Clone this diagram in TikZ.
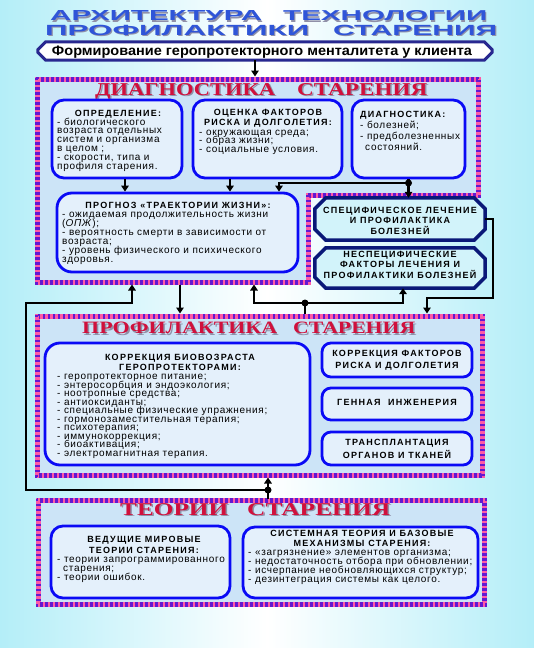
\documentclass[tikz,border=0pt]{standalone}
\usepackage{fontspec}
\usepackage{graphicx}
\setmainfont{Liberation Sans}
\newfontfamily\bodyf{Liberation Sans}[LetterSpace=7]
\newfontfamily\hdrf{Liberation Sans}[LetterSpace=14]
\newfontfamily\serf{Liberation Serif}
\usetikzlibrary{arrows.meta,calc}
\definecolor{bgc}{HTML}{B4EEF8}
\definecolor{pinkb}{HTML}{FF5AA5}
\definecolor{purpb}{HTML}{6418D0}
\definecolor{framef}{HTML}{CCE4F7}
\definecolor{boxf}{HTML}{E4F0FB}
\definecolor{boxb}{HTML}{0A0AF5}
\definecolor{navyb}{HTML}{0A1878}
\definecolor{specf}{HTML}{D2F3FA}
\definecolor{ttlblue}{HTML}{2F55D8}
\definecolor{secred}{HTML}{D0103C}
\definecolor{shadowc}{HTML}{9090A8}
\definecolor{bannerb}{HTML}{282890}
\newcommand\tlines[6]{\foreach \tx [count=\i from 0] in {#6} {\node[#5] (#1\i) at (#2,#3+#4*\i) {\tx};}}
\newcommand\bigword[6]{%
 \node[anchor=base west,inner sep=0,text=shadowc] (#1s) at (#2+1.2,#3+1.2) {\resizebox{#4pt}{#5pt}{\bfseries #6}};
 \node[anchor=base west,inner sep=0,text=ttlblue] (#1) at (#2,#3) {\resizebox{#4pt}{#5pt}{\bfseries #6}};}
\newcommand\secword[6]{%
 \node[anchor=base west,inner sep=0,text=shadowc] (#1s) at (#2+1.5,#3+1.5) {\resizebox{#4pt}{#5pt}{\serf\bfseries #6}};
 \node[anchor=base west,inner sep=0,text=secred] (#1) at (#2,#3) {\resizebox{#4pt}{#5pt}{\serf\bfseries #6}};}
\newcommand\chk[3]{%
 \draw[pinkb,line width=5pt] #1;
 \draw[purpb,line width=2.5pt,dash pattern=on 2.5pt off 2.5pt] #2;
 \draw[purpb,line width=2.5pt,dash pattern=on 2.5pt off 2.5pt,dash phase=2.5pt] #3;}
\newcommand\octo[3]{\filldraw[#3] ($(#1.north west)+(#2,0)$) -- ($(#1.north east)+(-#2,0)$) -- ($(#1.north east)+(0,#2)$) -- ($(#1.south east)+(0,-#2)$) -- ($(#1.south east)+(-#2,0)$) -- ($(#1.south west)+(#2,0)$) -- ($(#1.south west)+(0,-#2)$) -- ($(#1.north west)+(0,#2)$) -- cycle;}
\begin{document}
\begin{tikzpicture}[x=1pt,y=-1pt,
 rbox/.style={draw=boxb,line width=2.8pt,fill=boxf,rounded corners=12pt,inner sep=0},
 plainbox/.style={rectangle,inner sep=0},
 navyline/.style={draw=navyb,line width=3.5pt,fill=specf,line join=miter},
 bodyl/.style={font=\bodyf\fontsize{10}{10}\selectfont,anchor=base west,inner sep=0},
 hdrc/.style={font=\hdrf\bfseries\fontsize{9}{9}\selectfont,anchor=base,inner sep=0},
 hdrl/.style={hdrc,anchor=base west},
 conn/.style={line width=2.5pt,black},
 arr/.style={conn,-{Triangle[length=6pt,width=7.5pt]}},
 dot/.style={circle,fill=black,inner sep=0,minimum size=7pt}]
\useasboundingbox (0,0) rectangle (534,648);
\shade[left color=bgc,right color=bgc,middle color=white] (0,0) rectangle (534,648);
% title
\bigword{t1}{50}{20.8}{212}{10}{АРХИТЕКТУРА}
\bigword{t2}{283}{20.8}{204}{10}{ТЕХНОЛОГИИ}
\bigword{t3}{45}{35}{264}{10.3}{ПРОФИЛАКТИКИ}
\bigword{t4}{333}{35}{164}{10.3}{СТАРЕНИЯ}
% banner
\node[plainbox,minimum width=454pt,minimum height=18pt] (banner) at (265,51) {};
\octo{banner}{8}{draw=bannerb,line width=3pt,fill=white}
\node[inner sep=0,anchor=base] (bannert) at (262,55) {\resizebox{420pt}{9.5pt}{\bfseries Формирование геропротекторного менталитета у клиента}};
% diagnostics frame
\fill[framef] (37.5,79) -- (478,79) -- (478,195) -- (308,195) -- (308,282) -- (37.5,282) -- cycle;
\chk{(37.5,79) -- (478,79) -- (478,195) -- (308,195) -- (308,282) -- (37.5,282) -- cycle}{(36.25,77.75) -- (479.25,77.75) -- (479.25,196.25) -- (309.25,196.25) -- (309.25,283.25) -- (36.25,283.25) -- cycle}{(38.75,80.25) -- (476.75,80.25) -- (476.75,193.75) -- (306.75,193.75) -- (306.75,280.75) -- (38.75,280.75) -- cycle}
\secword{d1}{95}{95}{180}{12}{ДИАГНОСТИКА}
\secword{d2}{297}{95}{130}{12}{СТАРЕНИЯ}
\node[rbox,minimum width=130pt,minimum height=78pt] (b1) at (117,139) {};
\node[rbox,minimum width=149pt,minimum height=78pt] (b2) at (267.5,139) {};
\node[rbox,minimum width=113pt,minimum height=78pt] (b3) at (408.5,139) {};
\node[rbox,rounded corners=15pt,minimum width=241pt,minimum height=79pt] (progn) at (177.5,232.5) {};
\node[plainbox,minimum width=170pt,minimum height=42pt] (spec) at (400,219) {};
\octo{spec}{11}{navyline}
\node[plainbox,minimum width=170pt,minimum height=40pt] (nonspec) at (400,268) {};
\octo{nonspec}{11}{navyline}
% profilaktika frame
\fill[framef] (37.5,316) rectangle (482.5,475.5);
\chk{(37.5,316) rectangle (482.5,475.5)}{(36.25,314.75) rectangle (483.75,476.75)}{(38.75,317.25) rectangle (481.25,474.25)}
\secword{p1}{82}{333.5}{195}{11.5}{ПРОФИЛАКТИКА}
\secword{p2}{293}{333.5}{122}{11.5}{СТАРЕНИЯ}
\node[rbox,rounded corners=15pt,minimum width=265pt,minimum height=122pt] (big) at (177.5,404) {};
\node[rbox,rounded corners=9pt,minimum width=150pt,minimum height=34pt] (pA) at (397,360) {};
\node[rbox,rounded corners=9pt,minimum width=150pt,minimum height=32pt] (pB) at (397,404) {};
\node[rbox,rounded corners=9pt,minimum width=150pt,minimum height=33pt] (pC) at (397,448.5) {};
% teorii frame
\fill[framef] (38,500) rectangle (484.5,604);
\chk{(38,500) rectangle (484.5,604)}{(36.75,498.75) rectangle (485.75,605.25)}{(39.25,501.25) rectangle (483.25,602.75)}
\secword{e1}{120}{515}{108}{12}{ТЕОРИИ}
\secword{e2}{247}{515}{143}{12}{СТАРЕНИЯ}
\node[rbox,minimum width=179pt,minimum height=72pt] (tL) at (140.5,562) {};
\node[rbox,minimum width=235pt,minimum height=71pt] (tR) at (360.5,562.5) {};
% texts
\node[hdrc] (b1h) at (118,116) {ОПРЕДЕЛЕНИЕ:};
\tlines{b1l}{57}{125}{8.8}{bodyl}{{- биологического},{возраста отдельных},{систем и организма},{в целом ;},{- скорости, типа и},{профиля старения.}}
\node[hdrc] (b2h1) at (268,115) {ОЦЕНКА ФАКТОРОВ};
\node[hdrc] (b2h2) at (268,125) {РИСКА И ДОЛГОЛЕТИЯ:};
\tlines{b2l}{199}{135}{8.5}{bodyl}{{- окружающая среда;},{- образ жизни;},{- социальные условия.}}
\node[hdrl] (b3h) at (360,117) {ДИАГНОСТИКА:};
\tlines{b3l}{360}{128}{11}{bodyl}{{- болезней;},{- предболезненных},{\hspace*{5pt}состояний.}}
\node[hdrc] (pgh) at (178,208) {ПРОГНОЗ «ТРАЕКТОРИИ ЖИЗНИ»:};
\tlines{pgl}{62}{217.5}{8.9}{bodyl}{{- ожидаемая продолжительность жизни},{(\textit{ОПЖ});},{- вероятность смерти в зависимости от},{возраста;},{- уровень физического и психического},{здоровья.}}
\tlines{sp}{400}{213}{10.8}{hdrc}{{СПЕЦИФИЧЕСКОЕ ЛЕЧЕНИЕ},{И ПРОФИЛАКТИКА},{БОЛЕЗНЕЙ}}
\tlines{ns}{400}{257}{10.5}{hdrc}{{НЕСПЕЦИФИЧЕСКИЕ},{ФАКТОРЫ ЛЕЧЕНИЯ И},{ПРОФИЛАКТИКИ БОЛЕЗНЕЙ}}
\node[hdrc] (bgh1) at (180,360) {КОРРЕКЦИЯ БИОВОЗРАСТА};
\node[hdrc] (bgh2) at (180,370) {ГЕРОПРОТЕКТОРАМИ:};
\tlines{bgl}{57}{379.5}{8.5}{bodyl}{{- геропротекторное питание;},{- энтеросорбция и эндоэкология;},{- ноотропные средства;},{- антиоксиданты;},{- специальные физические упражнения;},{- гормонозаместительная терапия;},{- психотерапия;},{- иммунокоррекция;},{- биоактивация;},{- электромагнитная терапия.}}
\tlines{pAt}{397}{356}{12}{hdrc}{{КОРРЕКЦИЯ ФАКТОРОВ},{РИСКА И ДОЛГОЛЕТИЯ}}
\node[hdrc] (pBt) at (397,405.5) {ГЕННАЯ\ \ ИНЖЕНЕРИЯ};
\tlines{pCt}{397}{445}{13}{hdrc}{{ТРАНСПЛАНТАЦИЯ},{ОРГАНОВ И ТКАНЕЙ}}
\tlines{tLh}{144}{542}{11}{hdrc}{{ВЕДУЩИЕ МИРОВЫЕ},{ТЕОРИИ СТАРЕНИЯ:}}
\tlines{tLl}{57}{562}{9}{bodyl}{{- теории запрограммированного},{\hspace*{6pt}старения;},{- теории ошибок.}}
\tlines{tRh}{362}{536}{10}{hdrc}{{СИСТЕМНАЯ ТЕОРИЯ И БАЗОВЫЕ},{МЕХАНИЗМЫ СТАРЕНИЯ:}}
\tlines{tRl}{248}{555}{9}{bodyl}{{- «загрязнение» элементов организма;},{- недостаточность отбора при обновлении;},{- исчерпание необновляющихся структур;},{- дезинтеграция системы как целого.}}
% connectors
\coordinate (dtop) at (255,76.5);
\coordinate (J1) at (408.5,183);
\coordinate (r1) at (493,298);
\coordinate (pr3) at (427,313.5);
\coordinate (db1) at (180,284.5);
\coordinate (ptop) at (305,313.5);
\coordinate (J2) at (305,303);
\coordinate (db2) at (254,284.5);
\coordinate (J3) at (268,490);
\coordinate (tTop) at (268,498.5);
\coordinate (pbot) at (268,477.5);
\coordinate (L1) at (26,303);
\coordinate (db3) at (132,284.5);
\path ([xshift=8pt]b1.south) coordinate (a1);
\path ([xshift=-37.5pt]b2.south) coordinate (a2);
\path ([xshift=101.5pt]progn.north) coordinate (a3);
\path ([xshift=3pt]nonspec.south) coordinate (a4);
\draw[arr] (banner.south -| dtop) -- (dtop);
\draw[arr] (a1) -- (a1 |- progn.north);
\draw[arr] (a2) -- (a2 |- progn.north);
\draw[conn] (b3.south) -- (J1);
\draw[arr] (J1) -- (J1 |- spec.north);
\draw[arr] (J1) -| (a3);
\node[dot] (J1d) at (J1) {};
\draw[arr] (spec.east) -| (r1) -| (pr3);
\draw[arr] (db1) -- (db1 |- ptop);
\draw[conn] (J2) -- (ptop);
\draw[arr] (J2) -| (db2);
\draw[arr] (J2) -| (a4);
\node[dot] (J2d) at (J2) {};
\draw[conn] (J3) -- (tTop);
\draw[arr] (J3) -- (pbot);
\draw[arr] (J3) -| (L1) -| (db3);
\node[dot] (J3d) at (J3) {};
\end{tikzpicture}
\end{document}
